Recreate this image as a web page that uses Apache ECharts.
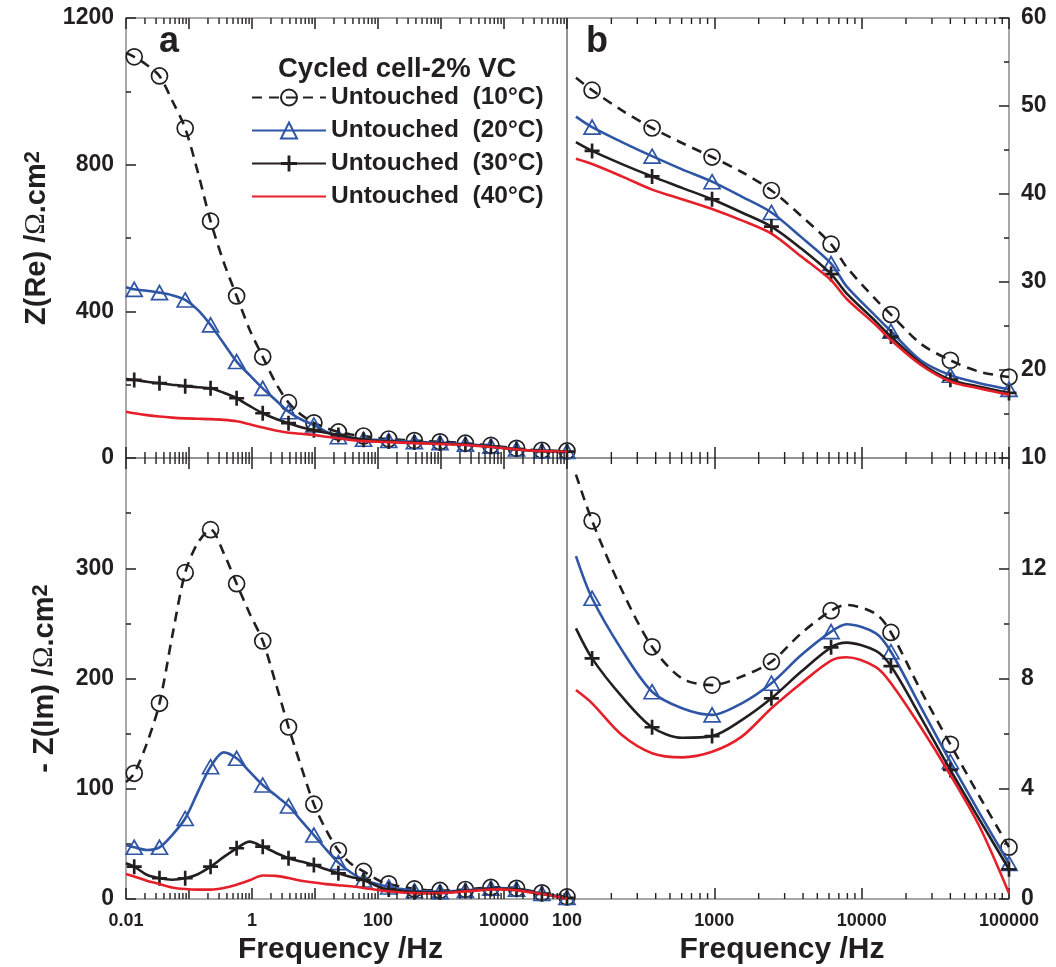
<!DOCTYPE html>
<html><head><meta charset="utf-8">
<script src="https://cdn.jsdelivr.net/npm/echarts@6/dist/echarts.min.js"></script>
<style>html,body{margin:0;padding:0;background:#fff}#c{width:1056px;height:967px}</style>
</head><body><div id="c"></div>
<script>
// ---------- data ----------
const freq = [0.01, 0.0135, 0.0214, 0.034, 0.054, 0.087, 0.138, 0.22, 0.354, 0.57, 0.918, 1.48, 2.37, 3.8, 6.04, 9.6, 15, 23.5, 37.2, 59, 115, 148, 236, 378, 604, 965, 1534, 2440, 3890, 6200, 7900, 12500, 15800, 25100, 40000, 63200, 100000];
const markerFreq = [0.0135, 0.034, 0.087, 0.22, 0.57, 1.48, 3.8, 9.6, 23.5, 59, 148, 378, 965, 2440, 6200, 15800, 40000, 100000];

const re10 = [1105, 1094, 1072, 1042, 975, 899, 780, 646, 535, 442, 350, 276, 205, 151, 118, 96, 82, 71, 64, 60, 53.2, 51.8, 49.5, 47.5, 45.8, 44.2, 42.5, 40.4, 37.5, 34.3, 31.7, 28.0, 26.3, 23.0, 21.1, 19.8, 19.2];
const re20 = [466, 460, 456, 451, 444, 431, 404, 363, 313, 263, 226, 190, 158, 126, 105, 90, 72, 58, 54, 51, 48.8, 47.6, 45.9, 44.3, 42.8, 41.4, 39.7, 37.9, 35.1, 32.1, 29.5, 26.1, 24.4, 21.1, 19.4, 18.5, 17.8];
const re30 = [215, 213, 208, 204, 200, 196, 193, 190, 178, 163, 142, 122, 107, 95, 84, 76, 69, 63, 56, 50, 45.9, 44.9, 43.4, 42.0, 40.7, 39.4, 37.9, 36.3, 33.8, 30.9, 28.7, 25.5, 23.8, 20.8, 18.9, 18.1, 17.4];
const re40 = [126, 122, 117, 113, 110, 108, 107, 106, 104, 100, 92, 83, 75, 69, 66, 63, 58, 54, 49, 46, 44.0, 43.4, 42.0, 40.5, 39.4, 38.3, 37.0, 35.5, 32.9, 30.2, 28.1, 25.1, 23.4, 20.6, 18.7, 17.9, 17.2];

const im10 = [106, 114, 141, 177.5, 238, 296, 323, 335, 314, 286, 259, 234, 196, 156, 120, 86, 62.6, 44, 32, 25, 15.4, 13.72, 11.2, 9.15, 8.0, 7.76, 8.07, 8.61, 9.64, 10.46, 10.67, 10.34, 9.67, 7.58, 5.61, 3.71, 1.88];
const im20 = [49, 46.9, 44.5, 46.9, 58, 73, 97, 120, 133, 127.6, 115.5, 103.4, 94, 84.4, 71, 58, 45, 33, 24, 17.2, 12.44, 10.91, 9.03, 7.52, 6.92, 6.68, 7.10, 7.83, 8.85, 9.70, 9.97, 9.64, 8.97, 6.98, 4.98, 3.11, 1.29];
const im30 = [32.4, 29.3, 22, 18.8, 17.5, 18.8, 22.5, 29.3, 38, 46, 52, 47.5, 42, 37, 34, 30.8, 27, 23.3, 20, 17.2, 9.82, 8.73, 7.34, 6.23, 5.85, 5.91, 6.49, 7.28, 8.25, 9.13, 9.30, 9.0, 8.45, 6.61, 4.68, 2.87, 1.08];
const im40 = [22.7, 20.5, 16.5, 13.5, 10.5, 9.0, 8.5, 8.5, 10, 13, 17, 21.3, 21.0, 19, 16.5, 15, 13.5, 12.5, 11.5, 10, 7.58, 7.1, 5.95, 5.29, 5.14, 5.34, 5.89, 6.92, 7.83, 8.65, 8.77, 8.41, 7.83, 6.25, 4.5, 2.62, 0.21];

const seriesNames = ['Untouched  (10°C)', 'Untouched  (20°C)', 'Untouched  (30°C)', 'Untouched  (40°C)'];
const legendTitle = 'Cycled cell-2% VC';
const xLabelsLeft = [0.01, 1, 100, 10000];
const xLabelsRight = [100, 1000, 10000, 100000];

// ---------- styling ----------
const BLACK = '#231f20', BLUE = '#2f55a5', RED = '#e5202a', FRAME = '#8c8c8c';
const FONT = '"Liberation Sans", Arial, sans-serif';
const PLUS = 'path://M6,0H8.6V14.6H6Z M0,6H14.6V8.6H0Z';
const CLEAR = 'rgba(0,0,0,0)';

const grids = [
  {left: 126, top: 18, width: 441, height: 440},
  {left: 567, top: 18, width: 442, height: 440},
  {left: 126, top: 458, width: 441, height: 441},
  {left: 567, top: 458, width: 442, height: 441}
];

const styles = [
  {color: BLACK, dash: [10, 7], symbol: 'circle', size: 16, item: {color: CLEAR, borderColor: BLACK, borderWidth: 1.7}},
  {color: BLUE, dash: 'solid', symbol: 'triangle', size: [16, 14], item: {color: CLEAR, borderColor: BLUE, borderWidth: 1.7}},
  {color: BLACK, dash: 'solid', symbol: PLUS, size: 15, item: {color: BLACK, borderWidth: 0}},
  {color: RED, dash: 'solid', symbol: 'none', size: 0, item: {color: RED}}
];

const fmt = list => v => {
  const r = Number(Number(v).toPrecision(6));
  return list.indexOf(r) >= 0 ? String(r) : '';
};

function buildData(vals, minF) {
  const out = [];
  freq.forEach((f, i) => {
    if (f < minF) return;
    const d = {value: [f, vals[i]]};
    if (markerFreq.indexOf(f) < 0) d.symbol = 'none';
    out.push(d);
  });
  return out;
}

const tickStyle = {color: BLACK, width: 1.5};
function xAxisDef(grid, min, max, pos, labels, name) {
  return {
    type: 'log', logBase: 10, gridIndex: grid, min: min, max: max, position: pos,
    axisLine: {show: false},
    axisTick: {show: true, inside: true, length: 11, lineStyle: tickStyle},
    splitLine: {show: false},
    axisLabel: labels ? {show: true, formatter: fmt(labels), margin: 13, fontSize: 18, fontWeight: 'bold', color: BLACK, fontFamily: FONT} : {show: false},
    name: name || '', nameLocation: 'middle', nameGap: 36,
    nameTextStyle: {fontSize: 30, fontWeight: 'bold', color: BLACK, fontFamily: FONT, padding: [0, 12, 0, 0]}
  };
}
function yAxisDef(grid, min, max, interval, pos, showMax, name, gap) {
  return {
    type: 'value', gridIndex: grid, min: min, max: max, interval: interval, position: pos,
    axisLine: {show: false},
    axisTick: {show: true, inside: true, length: 10, lineStyle: tickStyle},
    minorTick: {show: true, splitNumber: 2, length: 5, lineStyle: tickStyle},
    splitLine: {show: false},
    axisLabel: {show: true, margin: 12, fontSize: 23, fontWeight: 'bold', color: BLACK, fontFamily: FONT,
      showMaxLabel: showMax, formatter: v => String(v)},
    name: name || '', nameLocation: 'middle', nameRotate: 90, nameGap: gap || 0,
    nameTextStyle: {
      fontSize: 29, fontWeight: 'bold', color: BLACK, fontFamily: FONT,
      rich: {
        o: {fontSize: 29, fontWeight: 'normal', fontFamily: '"Liberation Serif", serif', color: BLACK},
        s: {fontSize: 22, fontWeight: 'bold', fontFamily: FONT, color: BLACK, verticalAlign: 'top', lineHeight: 22, padding: [0, 0, 14, 0]}
      }
    }
  };
}

const xAxes = [
  xAxisDef(0, 0.01, 100000, 'bottom', null),
  xAxisDef(1, 100, 100000, 'bottom', null),
  xAxisDef(2, 0.01, 100000, 'bottom', xLabelsLeft, 'Frequency /Hz'),
  xAxisDef(3, 100, 100000, 'bottom', xLabelsRight, 'Frequency /Hz'),
  xAxisDef(0, 0.01, 100000, 'top', null),
  xAxisDef(1, 100, 100000, 'top', null),
  xAxisDef(2, 0.01, 100000, 'top', null),
  xAxisDef(3, 100, 100000, 'top', null)
];
const yAxes = [
  yAxisDef(0, 0, 1200, 400, 'left', true, 'Z(Re) /{o|Ω}.cm{s|2}', 75),
  yAxisDef(1, 10, 60, 10, 'right', true),
  yAxisDef(2, 0, 400, 100, 'left', false, '- Z(Im) /{o|Ω}.cm{s|2}', 67),
  yAxisDef(3, 0, 16, 4, 'right', false)
];

const reSets = [re10, re20, re30, re40];
const imSets = [im10, im20, im30, im40];
const series = [];
const panels = [
  {sets: reSets, x: 0, y: 0, minF: 0},
  {sets: reSets, x: 1, y: 1, minF: 100},
  {sets: imSets, x: 2, y: 2, minF: 0},
  {sets: imSets, x: 3, y: 3, minF: 100}
];
panels.forEach(p => {
  p.sets.forEach((vals, k) => {
    const st = styles[k];
    series.push({
      type: 'line', name: seriesNames[k], xAxisIndex: p.x, yAxisIndex: p.y,
      data: buildData(vals, p.minF),
      smooth: 0.3, clip: true,
      symbol: st.symbol, symbolSize: st.size,
      lineStyle: {color: st.color, width: 2.6, type: st.dash},
      itemStyle: st.item,
      emphasis: {disabled: true},
      z: 3 + k
    });
  });
});

const option = {
  animation: false,
  backgroundColor: '#fff',
  grid: grids.map(g => Object.assign({show: true, borderColor: FRAME, borderWidth: 1.5, backgroundColor: 'transparent', containLabel: false}, g)),
  xAxis: xAxes,
  yAxis: yAxes,
  title: {text: legendTitle, left: 278, top: 55, padding: 0,
    textStyle: {fontSize: 27.5, fontWeight: 'bold', color: BLACK, fontFamily: FONT}},
  legend: {
    data: [seriesNames[0], seriesNames[1], seriesNames[2],
      {name: seriesNames[3], itemStyle: {color: CLEAR, borderColor: CLEAR, borderWidth: 0}}],
    orient: 'vertical', left: 251, top: 85, padding: 0,
    itemWidth: 74, itemHeight: 20, itemGap: 8, selectedMode: false,
    textStyle: {fontSize: 24.5, fontWeight: 'bold', color: BLACK, fontFamily: FONT, lineHeight: 24}
  },
  series: series
};

const chart = echarts.init(document.getElementById('c'), null, {renderer: 'canvas'});
chart.setOption(option);

// minor (2..9) log ticks on top and bottom edges of every panel
const edges = [
  {axis: 0, y: 458, dir: -1, lo: 0.01, hi: 100000},
  {axis: 4, y: 18, dir: 1, lo: 0.01, hi: 100000},
  {axis: 1, y: 458, dir: -1, lo: 100, hi: 100000},
  {axis: 5, y: 18, dir: 1, lo: 100, hi: 100000},
  {axis: 2, y: 899, dir: -1, lo: 0.01, hi: 100000},
  {axis: 6, y: 458, dir: 1, lo: 0.01, hi: 100000},
  {axis: 3, y: 899, dir: -1, lo: 100, hi: 100000},
  {axis: 7, y: 458, dir: 1, lo: 100, hi: 100000}
];
const graphics = [];
edges.forEach(e => {
  for (let d = Math.round(Math.log10(e.lo)); d < Math.round(Math.log10(e.hi)); d++) {
    for (let m = 2; m <= 9; m++) {
      const v = m * Math.pow(10, d);
      const x = chart.convertToPixel({xAxisIndex: e.axis}, v);
      graphics.push({type: 'line', silent: true, z: 10,
        shape: {x1: x, y1: e.y, x2: x, y2: e.y + e.dir * 6},
        style: {stroke: BLACK, lineWidth: 1.4}});
    }
  }
});
graphics.push({type: 'text', left: 159, top: 24.5, z: 20, style: {text: 'a', font: 'bold 36px ' + FONT, fill: BLACK}});
graphics.push({type: 'text', left: 586, top: 24.5, z: 20, style: {text: 'b', font: 'bold 36px ' + FONT, fill: BLACK}});
chart.setOption({graphic: graphics});
</script>
</body></html>
